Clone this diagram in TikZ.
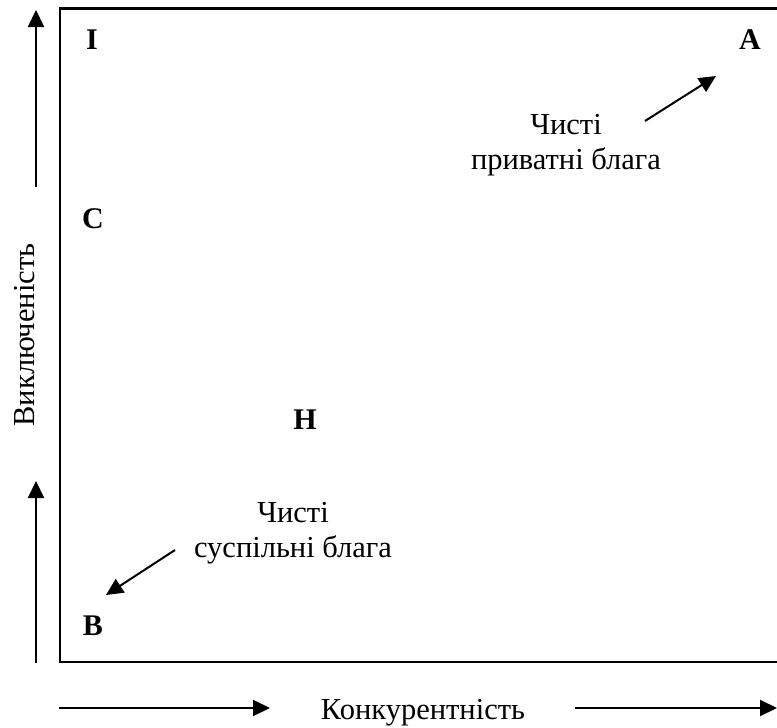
\documentclass[tikz,border=0pt]{standalone}
\usepackage{fontspec}
\setmainfont{Liberation Serif}
\usetikzlibrary{arrows.meta}
\begin{document}
\begin{tikzpicture}[x=1pt,y=-1pt,
  lbl/.style={inner sep=0pt,font=\fontsize{30.5}{35}\selectfont},
  letter/.style={inner sep=0pt,font=\fontsize{30}{35}\selectfont\bfseries},
  arr/.style={line width=2pt,-{Triangle[length=17pt,width=16pt]}},
  frame/.style={line width=2.6pt}]
\useasboundingbox (0,0) rectangle (777,728);
% frame (right side off picture)
\coordinate (tr) at (790,8.5);
\coordinate (tl) at (60,8.5);
\coordinate (bl) at (60,662);
\coordinate (br) at (790,662);
\draw[frame] (tr) -- (tl) -- (bl) -- (br);
% axis arrows
\coordinate (v1s) at (36,187);
\coordinate (v1e) at (36,10);
\coordinate (v2s) at (36,663);
\coordinate (v2e) at (36,481);
\draw[arr] (v1s) -- (v1e);
\draw[arr] (v2s) -- (v2e);
\coordinate (h1s) at (59,708);
\coordinate (h1e) at (270,708);
\coordinate (h2s) at (575,708);
\coordinate (h2e) at (777,708);
\draw[arr] (h1s) -- (h1e);
\draw[arr] (h2s) -- (h2e);
\node[lbl,rotate=90] (excl) at (25,335) {Виключеність};
\node[lbl] (comp) at (423,713) {Конкурентність};
% letters
\node[letter] (I) at (92,40) {I};
\node[letter] (A) at (750,40) {A};
\node[letter] (C) at (93,219) {C};
\node[letter] (H) at (305,420) {H};
\node[letter] (B) at (93,626) {B};
% labels
\node[lbl,align=center] (priv) at (566,145) {Чисті\\приватні блага};
\node[lbl,align=center] (pub) at (293,533) {Чисті\\суспільні блага};
\coordinate (pa) at (645,121);
\coordinate (pb) at (716,76);
\draw[arr] (pa) -- (pb);
\coordinate (qa) at (175,550);
\coordinate (qb) at (106,595);
\draw[arr] (qa) -- (qb);
\end{tikzpicture}
\end{document}
